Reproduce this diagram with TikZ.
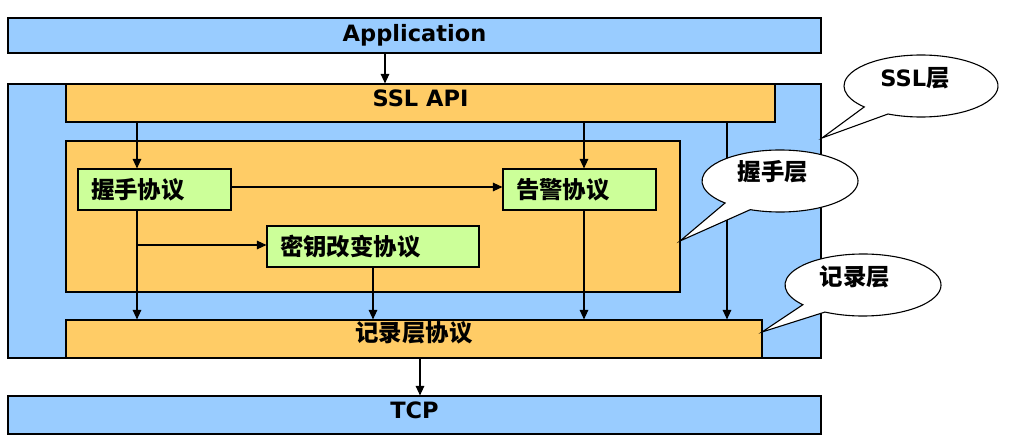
\documentclass[tikz,border=0pt]{standalone}
\usepackage{fontspec}
\setmainfont{DejaVu Sans}
\newfontfamily\cjk{Noto Sans CJK SC}[Scale=1.04]
\usetikzlibrary{arrows.meta}
\definecolor{layerblue}{RGB}{153,204,255}
\definecolor{layerorange}{RGB}{255,204,102}
\definecolor{protogreen}{RGB}{204,255,153}
\tikzset{
  box/.style={draw=black, line width=1.1pt, rectangle, inner sep=0pt},
  bluebox/.style={box, fill=layerblue},
  orangebox/.style={box, fill=layerorange},
  greenbox/.style={box, fill=protogreen, inner xsep=13pt, text width=127pt, align=left,
    minimum width=153pt, minimum height=41pt, font=\fontsize{22.5}{26}\selectfont\bfseries\cjk},
  lbl/.style={font=\fontsize{22.5}{26}\selectfont\bfseries, inner sep=0pt, anchor=base},
  arr/.style={line width=1.1pt, -{Triangle[length=9.5pt,width=8.5pt]}},
  callout/.style={draw=black, line width=1.1pt, fill=white},
}
\begin{document}
\begin{tikzpicture}[x=1pt,y=1pt]
\useasboundingbox (0,0) rectangle (1009,445);
% layers
\node[bluebox, minimum width=813pt, minimum height=35pt] (app) at (414.5,409.5) {};
\node[bluebox, minimum width=813pt, minimum height=274pt] (ssl) at (414.5,224) {};
\node[orangebox, minimum width=709pt, minimum height=38pt] (api) at (420.5,342) {};
\node[orangebox, minimum width=614pt, minimum height=151pt] (hsl) at (373,228.5) {};
\node[orangebox, minimum width=696pt, minimum height=38pt] (rec) at (414,106) {};
\node[bluebox, minimum width=813pt, minimum height=38pt] (tcp) at (414.5,30) {};
% labels in bars
\node[lbl] (tapp) at (414.5,403) {Application};
\node[lbl] (tapi) at (420.5,338) {SSL API};
\node[lbl] (trec) at (414,104) {\cjk 记录层协议};
\node[lbl] (ttcp) at (414.5,27) {TCP};
% protocol boxes
\node[greenbox] (hs) at (154.5,255.5) {握手协议};
\node[greenbox] (al) at (579.5,255.5) {告警协议};
\node[greenbox, minimum width=212pt, text width=186pt] (cc) at (373,198.5) {密钥改变协议};
% column and row coordinates
\coordinate (cA) at (385,0);
\coordinate (c1) at (137,0);
\coordinate (c2) at (373,0);
\coordinate (c3) at (584,0);
\coordinate (c4) at (727,0);
\coordinate (c5) at (420,0);
\coordinate (r1) at (0,258);
\coordinate (r2) at (0,200);
% connectors
\draw[arr] (cA |- app.south) -- (cA |- api.north);
\draw[arr] (c1 |- api.south) -- (c1 |- hs.north);
\draw[arr] (c3 |- api.south) -- (c3 |- al.north);
\draw[arr] (c4 |- api.south) -- (c4 |- rec.north);
\draw[arr] (hs.east |- r1) -- (al.west |- r1);
\draw[arr] (c1 |- hs.south) -- (c1 |- rec.north);
\draw[arr] (c1 |- r2) -- (cc.west |- r2);
\draw[arr] (c2 |- cc.south) -- (c2 |- rec.north);
\draw[arr] (c3 |- al.south) -- (c3 |- rec.north);
\draw[arr] (c5 |- rec.south) -- (c5 |- tcp.north);
% callouts
\draw[callout] (921,359) ++(244.6:77 and 31) arc[start angle=244.6, end angle=582.5, x radius=77, y radius=31] -- (822,307) -- cycle;
\node[lbl] (tssl) at (915,358) {SSL{\cjk 层}};
\draw[callout] (780,264) ++(247.6:78 and 31) arc[start angle=247.6, end angle=585.2, x radius=78, y radius=31] -- (680,204) -- cycle;
\node[lbl] (ths) at (773,264) {\cjk 握手层};
\draw[callout] (863,160) ++(240.8:78 and 31) arc[start angle=240.8, end angle=579.5, x radius=78, y radius=31] -- (762,113) -- cycle;
\node[lbl] (trl) at (855,160) {\cjk 记录层};
\end{tikzpicture}
\end{document}
